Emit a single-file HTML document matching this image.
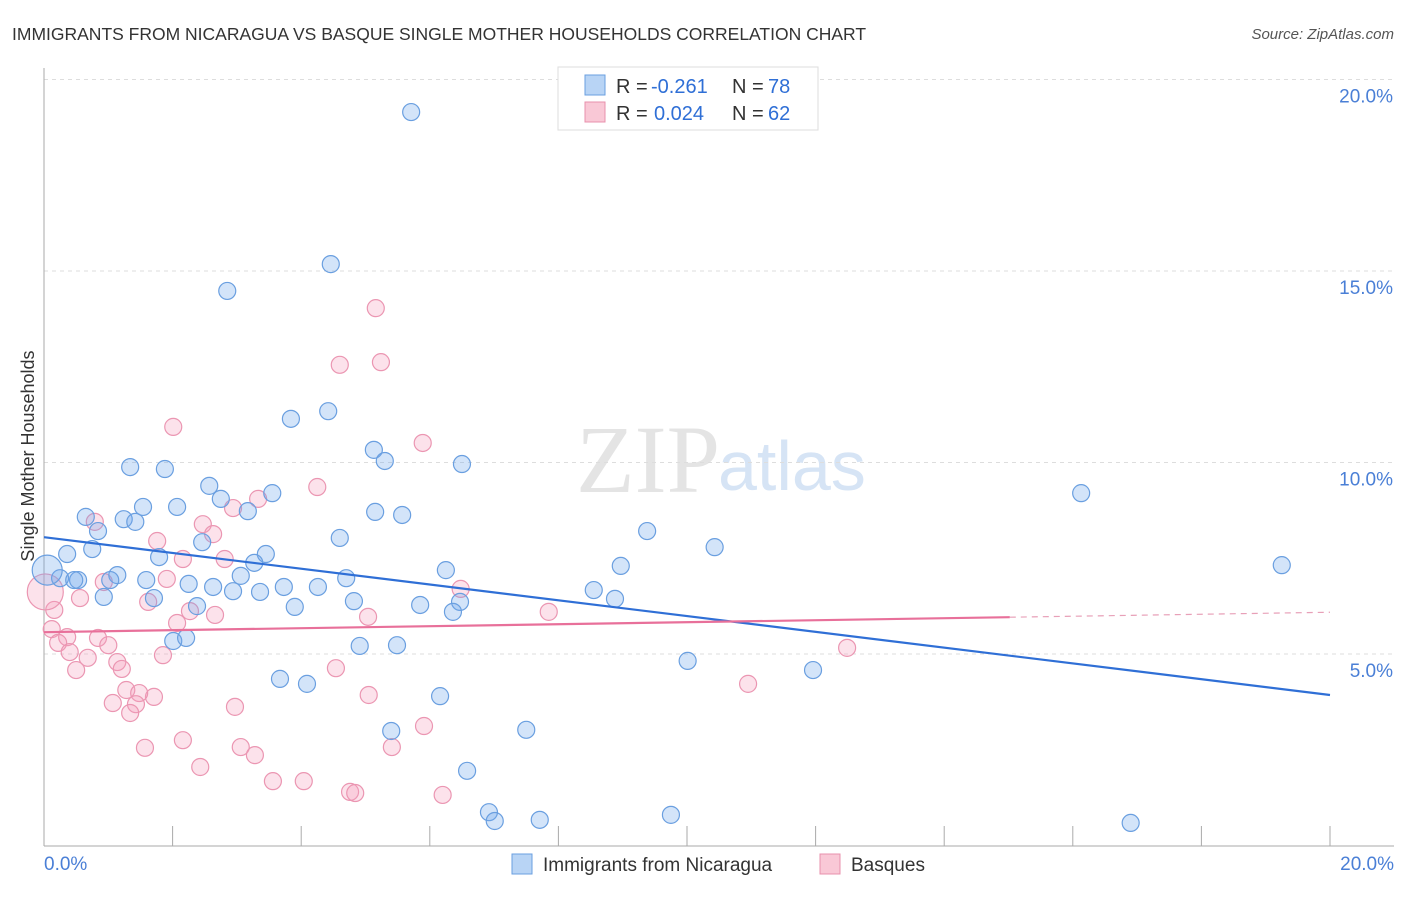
<!DOCTYPE html>
<html><head><meta charset="utf-8"><style>
body{margin:0;background:#fff;font-family:"Liberation Sans",sans-serif}
</style></head><body>
<svg width="1406" height="892" xmlns="http://www.w3.org/2000/svg" id="chart">
<text x="12" y="40" font-size="17.5" fill="#333">IMMIGRANTS FROM NICARAGUA VS BASQUE SINGLE MOTHER HOUSEHOLDS CORRELATION CHART</text>
<text x="1394" y="39" font-size="15" fill="#555" text-anchor="end" font-style="italic">Source: ZipAtlas.com</text>
<text x="720" y="492" font-size="96" fill="#e4e4e4" text-anchor="end" font-family="Liberation Serif">ZIP</text>
<text x="718" y="490" font-size="70" fill="#d6e4f5">atlas</text>
<g id="grid"></g><g id="axes"></g><g id="pts"></g><g id="lines"></g>
<text transform="translate(34,456) rotate(-90)" font-size="18" fill="#333" text-anchor="middle">Single Mother Households</text>
<g>
<rect x="558" y="67" width="260" height="63" fill="#fff" stroke="#ddd"/>
<rect x="585" y="75" width="20" height="20" fill="#b8d4f5" stroke="#6a9fe0"/>
<rect x="585" y="102" width="20" height="20" fill="#f9c8d6" stroke="#e890ac"/>
<text x="616" y="93" font-size="20" fill="#333">R =</text>
<text x="651" y="93" font-size="20" fill="#2f6fd6">-0.261</text>
<text x="732" y="93" font-size="20" fill="#333">N =</text>
<text x="768" y="93" font-size="20" fill="#2f6fd6">78</text>
<text x="616" y="120" font-size="20" fill="#333">R =</text>
<text x="654" y="120" font-size="20" fill="#2f6fd6">0.024</text>
<text x="732" y="120" font-size="20" fill="#333">N =</text>
<text x="768" y="120" font-size="20" fill="#2f6fd6">62</text>
</g>
<g>
<rect x="512" y="854" width="20" height="20" fill="#b8d4f5" stroke="#6a9fe0"/>
<text x="543" y="871" font-size="19" fill="#333">Immigrants from Nicaragua</text>
<rect x="820" y="854" width="20" height="20" fill="#f9c8d6" stroke="#e890ac"/>
<text x="851" y="871" font-size="19" fill="#333">Basques</text>
</g>
</svg>
<script>
const yTicks=[5,10,15,20];
const yTickLabels=["5.0%","10.0%","15.0%","20.0%"];
const xTickLabels=["0.0%","20.0%"];
const blueX=[5.71,4.46,2.85,3.84,4.42,5.13,5.30,6.50,1.34,1.88,2.57,2.75,3.55,1.54,2.07,3.17,0.65,1.24,1.42,5.15,5.57,0.84,9.38,0.75,4.60,2.46,0.36,1.79,3.45,10.43,3.27,6.25,8.97,16.13,19.25,0.25,0.53,1.14,1.59,2.25,2.63,3.06,3.73,4.26,4.70,1.03,2.94,3.36,8.55,0.93,1.71,2.38,3.90,4.82,5.85,6.47,6.36,8.88,2.01,2.21,4.91,5.49,10.01,11.96,3.67,4.09,6.16,5.40,7.50,6.58,6.92,7.01,7.71,9.75,16.90,0.47,0.05];
const blueY=[19.15,15.18,14.48,11.14,11.34,10.33,10.04,9.96,9.88,9.83,9.39,9.05,9.20,8.84,8.84,8.73,8.58,8.52,8.45,8.71,8.63,8.21,8.21,7.74,8.03,7.92,7.61,7.53,7.61,7.79,7.38,7.19,7.30,9.20,7.32,6.98,6.93,7.06,6.93,6.83,6.75,7.04,6.75,6.75,6.98,6.93,6.64,6.62,6.67,6.49,6.46,6.25,6.23,6.38,6.28,6.36,6.10,6.44,5.34,5.42,5.21,5.23,4.82,4.58,4.35,4.22,3.90,2.99,3.02,1.95,0.87,0.64,0.67,0.80,0.59,6.93,7.19];
const pinkX=[5.16,4.60,5.24,2.01,5.89,4.25,3.33,2.94,0.79,2.47,2.63,1.76,2.16,2.81,1.91,0.93,6.48,1.62,0.56,2.27,2.66,5.04,7.85,2.07,0.12,0.36,0.22,0.84,1.00,0.40,0.68,1.85,0.50,1.14,1.21,4.54,12.49,1.28,1.71,1.48,1.07,1.43,1.34,2.97,5.05,10.95,2.16,1.57,3.06,3.28,5.91,5.41,2.43,3.56,4.04,4.76,4.84,6.20,0.16,0.02];
const pinkY=[14.03,12.55,12.62,10.93,10.51,9.36,9.05,8.81,8.45,8.39,8.13,7.95,7.48,7.48,6.96,6.88,6.70,6.36,6.46,6.12,6.02,5.97,6.10,5.81,5.65,5.44,5.29,5.42,5.23,5.05,4.90,4.97,4.58,4.79,4.61,4.63,5.16,4.06,3.88,3.98,3.72,3.69,3.46,3.62,3.93,4.22,2.75,2.55,2.57,2.36,3.12,2.57,2.05,1.68,1.68,1.40,1.37,1.32,6.15,6.62];
const blueTrend=[8.05,3.93];
const pinkTrend=[5.57,6.09];
const NS="http://www.w3.org/2000/svg";
const X=v=>44+v/20*1286, Y=v=>845.5-v*38.3;
function mk(t,a,p){const e=document.createElementNS(NS,t);for(const k in a)e.setAttribute(k,a[k]);document.getElementById(p).appendChild(e);return e;}
yTicks.forEach((t,i)=>{
 const g=mk('line',{x1:44,x2:1394,y1:Y(t),y2:Y(t),stroke:'#ddd','stroke-dasharray':'4,4'},'grid');
 
 
 const l=mk('text',{x:1393,y:Y(t)+23,'font-size':19,fill:'#4a7fd6','text-anchor':'end'},'axes');
 l.textContent=yTickLabels[i];
 
 
});
const ax=mk('line',{x1:44,x2:44,y1:68,y2:846,stroke:'#aaa'},'axes');


const bx=mk('line',{x1:44,x2:1394,y1:846,y2:846,stroke:'#aaa'},'axes');


for(let i=1;i<=10;i++){const t=mk('line',{x1:X(i*2),x2:X(i*2),y1:826,y2:846,stroke:'#aaa'},'axes');
 
 }
[[0,'start',44],[20,'end',1394]].forEach((d,i)=>{const l=mk('text',{x:d[2],y:870,'font-size':19,fill:'#4a7fd6','text-anchor':d[1]},'axes');l.textContent=xTickLabels[i];
 
 });
function pts(xs,ys,fill,stroke,name,bigIdx,bigR){xs.forEach((x,i)=>{const r=(i===bigIdx)?bigR:8.5;
 const c=mk('circle',{cx:X(x),cy:Y(ys[i]),r:r,fill:fill,stroke:stroke,'stroke-width':1.2},'pts');
 
 });}
pts(pinkX,pinkY,'rgba(245,160,190,0.3)','#eb96b2','basques-point',pinkX.length-1,18);
pts(blueX,blueY,'rgba(110,165,235,0.3)','#6a9fe0','nicaragua-point',blueX.length-1,15);
const bl=mk('line',{x1:X(0),y1:Y(blueTrend[0]),x2:X(20),y2:Y(blueTrend[1]),stroke:'#2f6fd6','stroke-width':2.2},'lines');


const pm=pinkTrend[0]+(pinkTrend[1]-pinkTrend[0])*0.751;
const pl=mk('line',{x1:X(0),y1:Y(pinkTrend[0]),x2:X(15.02),y2:Y(pm),stroke:'#e8709a','stroke-width':2.2},'lines');


const pd=mk('line',{x1:X(15.02),y1:Y(pm),x2:X(20),y2:Y(pinkTrend[1]),stroke:'#e8a0b8','stroke-width':1.2,'stroke-dasharray':'6,5'},'lines');


</script>
</body></html>
